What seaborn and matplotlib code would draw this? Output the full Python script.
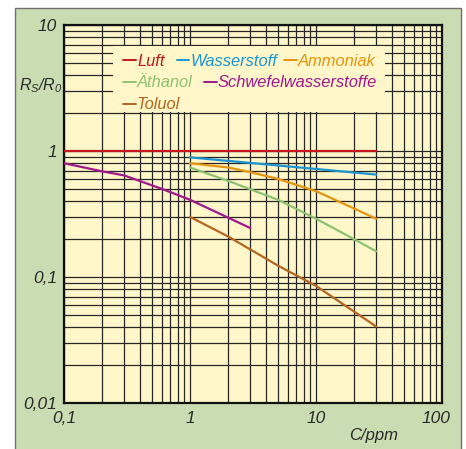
import matplotlib
matplotlib.use("Agg")
import matplotlib.pyplot as plt
from matplotlib.patches import Rectangle
from matplotlib.lines import Line2D
from matplotlib.ticker import LogLocator, NullFormatter
from matplotlib.transforms import ScaledTranslation
import pandas as pd
import seaborn as sns

# Gas sensor response: concentration C (ppm) vs. resistance ratio Rs/R0
luft_c = [0.1, 30]
luft_r = [1.0, 1.0]
wasserstoff_c = [1, 10, 30]
wasserstoff_r = [0.89, 0.72, 0.65]
ammoniak_c = [1, 2, 3, 5, 10, 20, 30]
ammoniak_r = [0.80, 0.74, 0.68, 0.60, 0.48, 0.35, 0.29]
aethanol_c = [1, 2, 5, 10, 20, 30]
aethanol_r = [0.74, 0.58, 0.41, 0.29, 0.20, 0.16]
schwefel_c = [0.1, 0.2, 0.3, 0.6, 1, 3]
schwefel_r = [0.80, 0.69, 0.64, 0.50, 0.41, 0.245]
toluol_c = [1, 2, 5, 10, 30]
toluol_r = [0.30, 0.21, 0.123, 0.085, 0.0405]

gases = ["Luft", "Wasserstoff", "Ammoniak", "Äthanol", "Schwefelwasserstoffe", "Toluol"]
colors = ["#C4161C", "#1B95D2", "#E8940C", "#8DC270", "#A3178F", "#B5651D"]
x_ticks = [0.1, 1, 10, 100]
x_tick_labels = ["0,1", "1", "10", "100"]
y_ticks = [0.01, 0.1, 1, 10]
y_tick_labels = ["0,01", "0,1", "1", "10"]

series = [(luft_c, luft_r), (wasserstoff_c, wasserstoff_r), (ammoniak_c, ammoniak_r),
          (aethanol_c, aethanol_r), (schwefel_c, schwefel_r), (toluol_c, toluol_r)]
df = pd.concat([pd.DataFrame({"C": c, "R": r, "Gas": g}) for g, (c, r) in zip(gases, series)],
               ignore_index=True)

sns.set_theme(style="white")
plt.rcParams["font.family"] = ["Liberation Sans", "DejaVu Sans"]
plt.rcParams["font.style"] = "italic"
plt.rcParams["mathtext.fontset"] = "custom"
plt.rcParams["mathtext.it"] = "Liberation Sans:italic"
plt.rcParams["mathtext.rm"] = "Liberation Sans:italic"

W, H = 466, 449
BG = "#FFF7C9"
TXT = "#2a2a2a"
fig = plt.figure(figsize=(W / 100, H / 100), dpi=100)
fig.patch.set_facecolor("white")

# green panel behind the chart
fig.add_artist(Rectangle((15 / W, -0.02), (461 - 15) / W, (449 - 8) / H + 0.02,
                         transform=fig.transFigure, facecolor="#C9DCB2",
                         edgecolor="#707070", lw=1.0, zorder=-5))

ax = fig.add_axes([64 / W, 1 - 403 / H, 378 / W, 378 / H])
ax.set_facecolor(BG)
ax.set_xscale("log")
ax.set_yscale("log")
ax.set_xlim(0.1, 100)
ax.set_ylim(0.01, 10)
ax.set_axisbelow(True)

ax.xaxis.set_minor_locator(LogLocator(base=10, subs=range(2, 10)))
ax.yaxis.set_minor_locator(LogLocator(base=10, subs=range(2, 10)))
ax.xaxis.set_minor_formatter(NullFormatter())
ax.yaxis.set_minor_formatter(NullFormatter())
ax.set_xticks(x_ticks, labels=x_tick_labels)
ax.set_yticks(y_ticks, labels=y_tick_labels)
ax.grid(which="both", color="#262626", lw=0.9)
ax.tick_params(which="both", length=0)
ax.tick_params(axis="x", pad=6)
ax.tick_params(axis="y", pad=5)
for lbl in ax.get_xticklabels() + ax.get_yticklabels():
    lbl.set_fontstyle("italic")
    lbl.set_fontsize(12.5)
    lbl.set_color(TXT)
# keep the last x label inside the panel
last = ax.get_xticklabels()[-1]
last.set_transform(last.get_transform() + ScaledTranslation(-0.06, 0, fig.dpi_scale_trans))

for s in ax.spines.values():
    s.set_color("#111111")
    s.set_linewidth(1.6)

# plain band for the key
ax.add_patch(Rectangle((0.245, 2.03), 35.3 - 0.245, 6.78 - 2.03,
                       facecolor=BG, edgecolor="none", zorder=1))

sns.lineplot(data=df, x="C", y="R", hue="Gas", hue_order=gases,
             palette=dict(zip(gases, colors)), estimator=None, sort=True,
             legend=False, lw=1.6, ax=ax, zorder=3)
ax.set_xlabel("")
ax.set_ylabel("")

# key entries: (gas, left pixel, baseline pixel)
key_pos = [(123, 65.7), (176.5, 65.7), (284, 65.7), (123, 87.3), (204, 87.3), (123, 109)]
for (g, col), (px, py) in zip(zip(gases, colors), key_pos):
    fig.add_artist(Line2D([px / W, (px + 12.5) / W], [1 - (py - 5.5) / H] * 2,
                          transform=fig.transFigure, color=col, lw=1.4))
    fig.text((px + 14) / W, 1 - py / H, g, color=col, fontsize=11.9,
             fontstyle="italic", ha="left", va="baseline")

fig.text(19 / W, 1 - 90 / H, r"$\mathit{R_S/R_0}$", fontsize=11.5, color=TXT,
         ha="left", va="baseline")
fig.text(374 / W, 1 - 440 / H, "C/ppm", fontsize=12, color=TXT,
         fontstyle="italic", ha="center", va="baseline")

fig.savefig("out.png", dpi=100)
